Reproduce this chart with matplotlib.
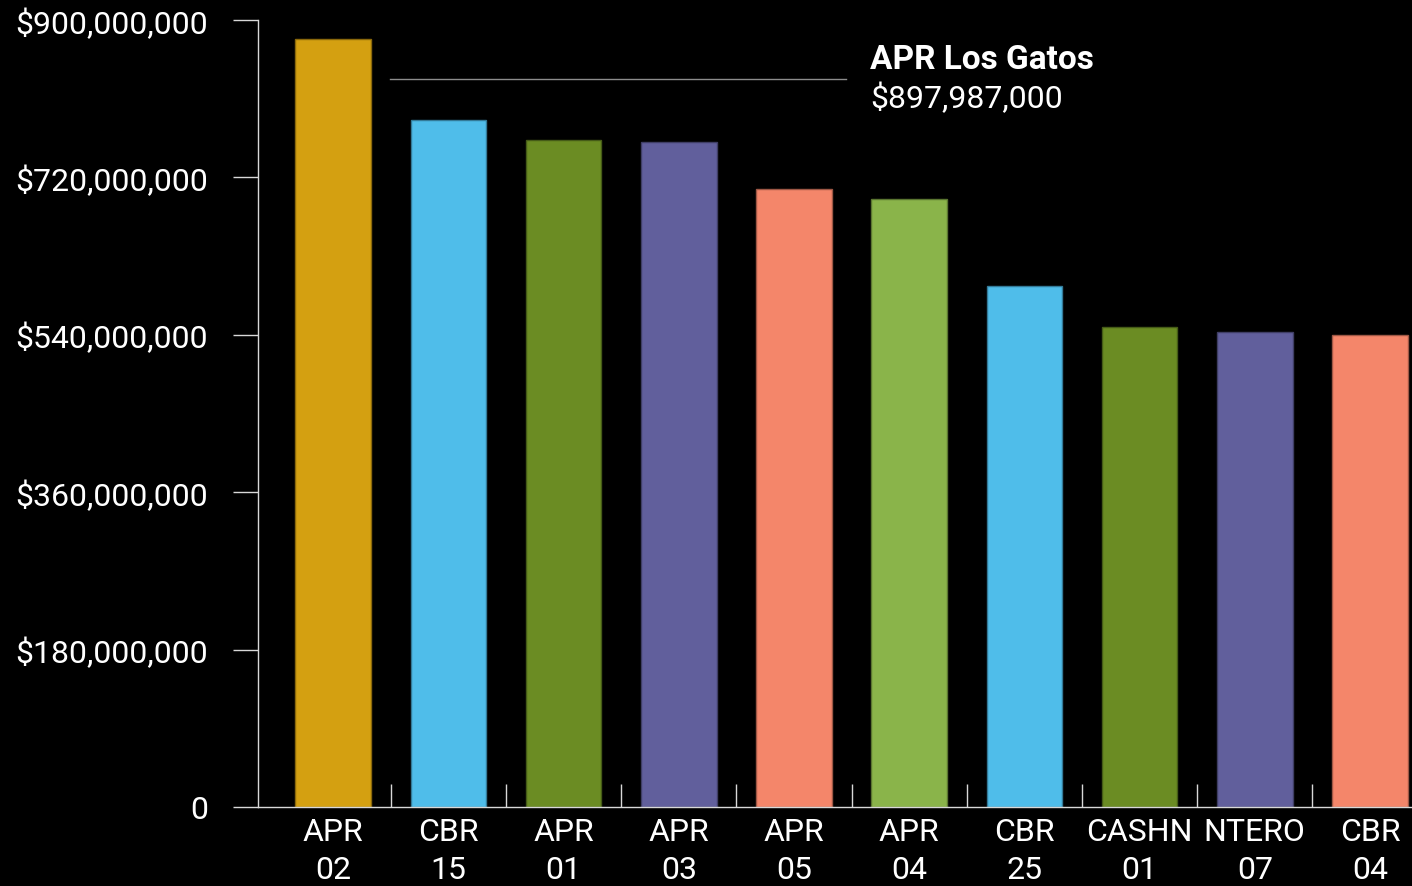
import matplotlib
matplotlib.use('Agg')
import matplotlib.pyplot as plt
from matplotlib.ticker import FuncFormatter

plt.rcParams['font.family'] = ['Roboto', 'DejaVu Sans']

# data
labels = ['APR\n02', 'CBR\n15', 'APR\n01', 'APR\n03', 'APR\n05',
          'APR\n04', 'CBR\n25', 'CASHN\n01', 'NTERO\n07', 'CBR\n04']
values = [878.3e6, 785.3e6, 762.4e6, 760.0e6, 706.4e6,
          695.3e6, 596.2e6, 548.9e6, 542.9e6, 540.1e6]
colors = ['#D4A011', '#4FBDEA', '#6B8C23', '#615F9C', '#F4866A',
          '#8AB44A', '#4FBDEA', '#6B8C23', '#615F9C', '#F4866A']
edges = ['#8a680b', '#337a98', '#455b17', '#3f3e65', '#9e5745',
         '#5a7530', '#337a98', '#455b17', '#3f3e65', '#9e5745']
yticks = [0, 180e6, 360e6, 540e6, 720e6, 900e6]
callout_title = 'APR Los Gatos'
callout_value = '$897,987,000'

fig = plt.figure(figsize=(14.12, 8.87), dpi=100, facecolor='black')
ax = fig.add_axes([258 / 1412, 79 / 887, 1 - 258 / 1412, 787 / 887])
ax.set_facecolor('black')

x = list(range(len(values)))
ax.bar(x, values, width=0.657, color=colors, edgecolor=edges, linewidth=1.0)

ax.set_xlim(-0.653, 9.365)
ax.set_ylim(0, 900e6)

line_col = '#d8d8d8'
for s in ['top', 'right']:
    ax.spines[s].set_visible(False)
for s in ['left', 'bottom']:
    ax.spines[s].set_color(line_col)
    ax.spines[s].set_linewidth(1.0)

# y axis
ax.set_yticks(yticks)
ax.yaxis.set_major_formatter(FuncFormatter(lambda v, p: '0' if v == 0 else '${:,.0f}'.format(v)))
ax.tick_params(axis='y', direction='out', length=18, width=1.0, color=line_col,
               labelcolor='white', labelsize=23, pad=18)

# x axis: boundary ticks inward, labels at bar centres
ax.set_xticks([i + 0.5 for i in x[:-1]])
ax.set_xticklabels([])
ax.tick_params(axis='x', which='major', direction='in', length=16.5, width=1.0, color=line_col)
ax.set_xticks(x, minor=True)
ax.set_xticklabels(labels, minor=True)
ax.tick_params(axis='x', which='minor', length=0, labelcolor='white', labelsize=23, pad=7)
for t in ax.get_xticklabels(minor=True):
    t.set_linespacing(1.42)

# callout
ax.plot([0.493, 4.45], [832e6, 832e6], color='#8c8c8c', linewidth=1.0)
ax.text(4.66, 855e6, callout_title, color='white', fontsize=24, fontweight='bold',
        ha='left', va='center')
ax.text(4.66, 812e6, callout_value, color='white', fontsize=23,
        ha='left', va='center')

fig.savefig('out.png', dpi=100, facecolor='black')
